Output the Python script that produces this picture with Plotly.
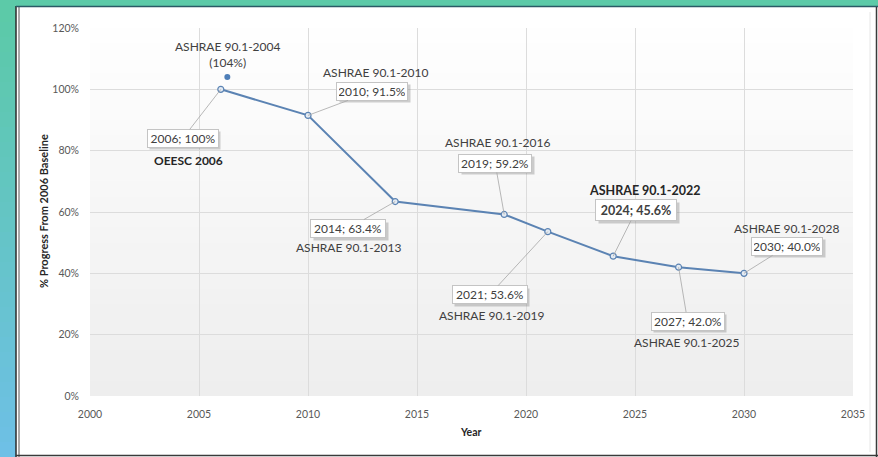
import plotly.graph_objects as go

# ---- data ----
years = [2006, 2010, 2014, 2019, 2021, 2024, 2027, 2030]
progress = [100.0, 91.5, 63.4, 59.2, 53.6, 45.6, 42.0, 40.0]
callout_texts = ["2006; 100%", "2010; 91.5%", "2014; 63.4%", "2019; 59.2%",
                 "2021; 53.6%", "2024; 45.6%", "2027; 42.0%", "2030; 40.0%"]
code_labels = ["OEESC 2006", "ASHRAE 90.1-2010", "ASHRAE 90.1-2013", "ASHRAE 90.1-2016",
               "ASHRAE 90.1-2019", "ASHRAE 90.1-2022", "ASHRAE 90.1-2025", "ASHRAE 90.1-2028"]
extra_year = [2006.3]
extra_value = [104.0]
extra_label = "ASHRAE 90.1-2004<br>(104%)"
x_ticks = [2000, 2005, 2010, 2015, 2020, 2025, 2030, 2035]
y_ticks = [0, 20, 40, 60, 80, 100, 120]
y_tick_labels = ["0%", "20%", "40%", "60%", "80%", "100%", "120%"]

FONT = "Lato, Carlito, Liberation Sans, sans-serif"
LINE = "#5b83b3"

# ---- layout geometry (pixels) ----
W, H = 878, 457
L, R, T, B = 90, 25, 28, 61
pw, ph = W - L - R, H - T - B

def px(x):
    return (x - L) / pw

def py(y):
    return (H - B - y) / ph

fig = go.Figure()

fig.add_trace(go.Scatter(
    x=years, y=progress, mode="lines+markers",
    line=dict(color=LINE, width=2),
    marker=dict(symbol="circle", size=6, color="#e4ebf3", line=dict(color=LINE, width=1.2)),
    showlegend=False, hoverinfo="skip"))
fig.add_trace(go.Scatter(
    x=extra_year, y=extra_value, mode="markers",
    marker=dict(symbol="circle", size=6, color="#4f7fb8"),
    showlegend=False, hoverinfo="skip"))

shapes = []
# white panel
shapes.append(dict(type="rect", xref="paper", yref="paper", layer="below",
                   x0=px(16), x1=px(878), y0=py(457), y1=py(6),
                   fillcolor="white", line=dict(width=0)))
# left gradient strip (teal -> blue)
n = 30
for i in range(n):
    t = i / (n - 1)
    r = int(92 + (110 - 92) * t)
    g = int(202 + (192 - 202) * t)
    b = int(168 + (230 - 168) * t)
    y0 = 7 + (457 - 7) * i / n
    y1 = 7 + (457 - 7) * (i + 1) / n
    shapes.append(dict(type="rect", xref="paper", yref="paper", layer="below",
                       x0=px(0), x1=px(16), y0=py(y1 + 0.5), y1=py(y0),
                       fillcolor=f"rgb({r},{g},{b})", line=dict(width=0)))
# dark borders of the panel
shapes.append(dict(type="line", xref="paper", yref="paper", layer="above",
                   x0=px(16), x1=px(16), y0=py(457), y1=py(6),
                   line=dict(color="#2b2b2b", width=1.5)))
shapes.append(dict(type="line", xref="paper", yref="paper", layer="above",
                   x0=px(19), x1=px(19), y0=py(457), y1=py(7),
                   line=dict(color="#555555", width=1)))
shapes.append(dict(type="line", xref="paper", yref="paper", layer="above",
                   x0=px(16), x1=px(878), y0=py(6.5), y1=py(6.5),
                   line=dict(color="#2a5a66", width=1.5)))
shapes.append(dict(type="line", xref="paper", yref="paper", layer="above",
                   x0=px(16), x1=px(878), y0=py(455.5), y1=py(455.5),
                   line=dict(color="#3a3a3a", width=1.5)))
shapes.append(dict(type="line", xref="paper", yref="paper", layer="above",
                   x0=px(876.5), x1=px(876.5), y0=py(457), y1=py(7),
                   line=dict(color="#3a3a3a", width=1.5)))
shapes.append(dict(type="line", xref="paper", yref="paper", layer="below",
                   x0=px(870), x1=px(870), y0=py(452), y1=py(12),
                   line=dict(color="#e6e6e6", width=1)))
# plot-area gradient (white -> light gray)
m = 24
for i in range(m):
    t = (i + 0.5) / m
    c = int(255 - 17 * t)
    shapes.append(dict(type="rect", xref="paper", yref="paper", layer="below",
                       x0=0, x1=1, y0=1 - (i + 1) / m, y1=1 - i / m + 0.001,
                       fillcolor=f"rgb({c},{c},{c})", line=dict(width=0)))

ann = []
# callout offsets (pixels) relative to each point: box centre and code-label centre
box_off = [(-38, 49), (64, -24), (-47, 27), (-9, -51), (-58, 63), (23, -46), (9, 54), (43, -27)]
lab_off = [(-32, 71), (67, -43), (-47, 46), (-7, -72), (-56, 84), (32, -66), (8, 75), (42, -45)]
box_w = [66, 66, 70, 68, 70, 76, 68, 66]
bold = [False, False, False, False, False, True, False, False]

for i, (xv, yv) in enumerate(zip(years, progress)):
    ax, ay = box_off[i]
    txt = callout_texts[i]
    lab = code_labels[i]
    if bold[i]:
        txt = f"<b>{txt}</b>"
    fsize = 12.5 if bold[i] else 12
    bh = 16 if bold[i] else 13
    # shadow
    ann.append(dict(x=xv, y=yv, xref="x", yref="y", showarrow=False,
                    xshift=ax + 2.5, yshift=-ay - 2.5, text=" ",
                    width=box_w[i], height=bh,
                    font=dict(family=FONT, size=fsize, color="rgba(0,0,0,0)"),
                    bgcolor="rgba(120,120,120,0.35)", borderpad=2, borderwidth=1,
                    bordercolor="rgba(0,0,0,0)"))
    # box with leader line
    ann.append(dict(x=xv, y=yv, xref="x", yref="y", showarrow=True,
                    ax=ax, ay=ay, arrowhead=0, arrowwidth=0.8, arrowcolor="#a6a6a6",
                    text=txt, width=box_w[i], height=bh,
                    font=dict(family=FONT, size=fsize, color="#404040"),
                    bgcolor="white", bordercolor="#c4c4c4", borderwidth=1, borderpad=2))
    lx, ly = lab_off[i]
    if i == 0 or bold[i]:
        lab = f"<b>{lab}</b>"
    ann.append(dict(x=xv, y=yv, xref="x", yref="y", showarrow=False,
                    xshift=lx, yshift=-ly, text=lab,
                    font=dict(family=FONT, size=12.5 if bold[i] else 12,
                              color="#262626" if (i == 0 or bold[i]) else "#404040")))

ann.append(dict(x=extra_year[0], y=extra_value[0], xref="x", yref="y", showarrow=False,
                xshift=0, yshift=23, text=extra_label,
                font=dict(family=FONT, size=12, color="#404040")))
ann.append(dict(x=px(43), y=py(211), xref="paper", yref="paper", showarrow=False,
                xanchor="center", yanchor="middle",
                text="<b>% Progress From 2006 Baseline</b>", textangle=-90,
                font=dict(family=FONT, size=11, color="#262626")))
ann.append(dict(x=px(471), y=py(432), xref="paper", yref="paper", showarrow=False,
                xanchor="center", yanchor="middle",
                text="<b>Year</b>", font=dict(family=FONT, size=10.5, color="#262626")))

fig.update_layout(
    width=W, height=H,
    margin=dict(l=L, r=R, t=T, b=B, pad=0),
    paper_bgcolor="rgb(92,202,168)",
    plot_bgcolor="rgba(0,0,0,0)",
    shapes=shapes, annotations=ann,
    font=dict(family=FONT, color="#595959"),
    xaxis=dict(range=[2000, 2035], tickvals=x_ticks, ticktext=[str(v) for v in x_ticks],
               showgrid=True, gridcolor="#dcdcdc", gridwidth=1, zeroline=False,
               showline=False, ticks="", tickfont=dict(size=10.5, color="#595959"),
               ticklabelstandoff=10),
    yaxis=dict(range=[0, 120], tickvals=y_ticks, ticktext=y_tick_labels,
               showgrid=True, gridcolor="#dcdcdc", gridwidth=1, zeroline=False,
               showline=False, ticks="", tickfont=dict(size=10.5, color="#595959"),
               ticklabelstandoff=10),
)

fig.write_html("out.html", config={"displayModeBar": False},
               post_script="document.body.style.margin='0';document.body.style.overflow='hidden';")
